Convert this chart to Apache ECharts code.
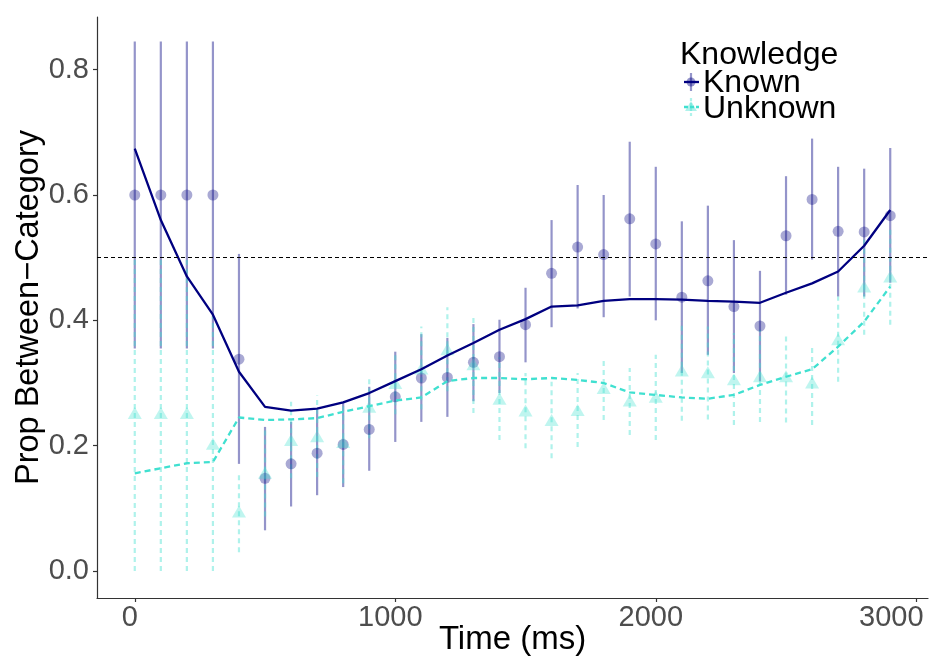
<!DOCTYPE html>
<html>
<head>
<meta charset="utf-8">
<script src="https://cdn.jsdelivr.net/npm/echarts@6/dist/echarts.min.js"></script>
<style>
html,body{margin:0;padding:0;background:#fff;}
#c{width:932px;height:662px;}
</style>
</head>
<body>
<div id="c"></div>
<script>
// ---- data ----
const timeMs = [0,100,200,300,400,500,600,700,800,900,1000,1100,1200,1300,1400,1500,1600,1700,1800,1900,2000,2100,2200,2300,2400,2500,2600,2700,2800,2900];

const knownMean = [0.600,0.600,0.600,0.600,0.338,0.148,0.171,0.188,0.202,0.226,0.278,0.308,0.309,0.333,0.342,0.393,0.475,0.517,0.505,0.562,0.522,0.437,0.463,0.422,0.391,0.535,0.593,0.542,0.541,0.567];
const knownLow  = [0.355,0.355,0.355,0.355,0.171,0.065,0.103,0.121,0.134,0.160,0.206,0.238,0.246,0.271,0.284,0.333,0.389,0.419,0.405,0.438,0.400,0.316,0.345,0.316,0.303,0.441,0.497,0.438,0.438,0.460];
const knownHigh = [0.845,0.845,0.845,0.845,0.506,0.230,0.238,0.257,0.268,0.294,0.350,0.378,0.372,0.394,0.401,0.452,0.560,0.616,0.600,0.685,0.645,0.558,0.583,0.528,0.479,0.630,0.690,0.645,0.642,0.675];
const knownFit  = [0.674,0.560,0.470,0.409,0.318,0.262,0.256,0.259,0.269,0.284,0.303,0.322,0.344,0.364,0.385,0.402,0.422,0.424,0.431,0.434,0.434,0.433,0.431,0.430,0.428,0.444,0.459,0.478,0.519,0.576];

const unknownMean = [0.252,0.252,0.252,0.203,0.095,0.157,0.209,0.215,0.206,0.262,0.300,0.323,0.354,0.330,0.275,0.256,0.241,0.257,0.292,0.272,0.278,0.320,0.317,0.306,0.311,0.311,0.301,0.370,0.454,0.470];
const unknownLow  = [0.000,0.000,0.000,0.000,0.030,0.087,0.148,0.150,0.140,0.212,0.250,0.258,0.287,0.252,0.209,0.196,0.180,0.198,0.241,0.217,0.209,0.240,0.242,0.233,0.238,0.237,0.233,0.302,0.377,0.393];
const unknownHigh = [0.500,0.500,0.500,0.406,0.155,0.227,0.270,0.280,0.270,0.310,0.350,0.390,0.421,0.408,0.341,0.316,0.302,0.316,0.338,0.324,0.345,0.398,0.390,0.380,0.385,0.380,0.359,0.438,0.531,0.547];
const unknownFit  = [0.156,0.164,0.172,0.174,0.245,0.241,0.242,0.244,0.254,0.263,0.272,0.277,0.303,0.308,0.308,0.306,0.308,0.305,0.300,0.285,0.281,0.277,0.275,0.281,0.297,0.310,0.322,0.358,0.398,0.454];

const xTicks = [0,1000,2000,3000];
const yTicks = [0,0.2,0.4,0.6,0.8];
const chanceLevel = 0.5;

// ---- styles ----
const FONT = 'Liberation Sans, Arial, sans-serif';
const KNOWN_LINE = '#000080';
const KNOWN_PT = 'rgba(0,0,128,0.42)';
const UNK_LINE = '#40E0D0';
const UNK_PT = 'rgba(64,224,208,0.42)';
const TICK_FS = 29;

function errBar(color, dash) {
  return function (params, api) {
    const x = api.value(0);
    const p1 = api.coord([x, api.value(1)]);
    const p2 = api.coord([x, api.value(2)]);
    return {
      type: 'line',
      shape: {x1: p1[0], y1: p1[1], x2: p2[0], y2: p2[1]},
      style: {stroke: color, lineWidth: 2.2, lineDash: dash}
    };
  };
}

const chart = echarts.init(document.getElementById('c'), null, {renderer: 'canvas'});
chart.setOption({
  animation: false,
  backgroundColor: '#fff',
  textStyle: {fontFamily: FONT},
  grid: {left: 97, right: 4, top: 17, bottom: 64, containLabel: false, outerBoundsMode: 'none'},
  xAxis: {
    type: 'value', min: -145, max: 3045,
    name: 'Time (ms)', nameLocation: 'middle', nameGap: 25, nameMoveOverlap: false,
    nameTextStyle: {fontSize: 33, color: '#000', fontFamily: FONT},
    splitLine: {show: false},
    axisLine: {show: true, onZero: false, lineStyle: {color: '#333', width: 1.2}},
    axisTick: {show: true, customValues: xTicks, length: 4, lineStyle: {color: '#333', width: 1.2}},
    axisLabel: {customValues: xTicks, color: '#4d4d4d', margin: 5, fontFamily: FONT,
      fontSize: TICK_FS,
      formatter: v => (v === 3000 ? '{e|' + v + '}' : '{n|' + v + '}'),
      rich: {
        n: {fontSize: TICK_FS, color: '#4d4d4d', fontFamily: FONT, padding: [0, 10, 0, 0]},
        e: {fontSize: TICK_FS, color: '#4d4d4d', fontFamily: FONT, padding: [0, 50, 0, 0]}
      }
    }
  },
  yAxis: {
    type: 'value', min: -0.043, max: 0.884,
    name: 'Prop Between\u2212Category', nameLocation: 'middle', nameGap: 51, nameRotate: 90,
    nameMoveOverlap: false,
    nameTextStyle: {fontSize: 32.5, color: '#000', fontFamily: FONT},
    splitLine: {show: false},
    axisLine: {show: true, onZero: false, lineStyle: {color: '#333', width: 1.2}},
    axisTick: {show: true, customValues: yTicks, length: 4, lineStyle: {color: '#333', width: 1.2}},
    axisLabel: {customValues: yTicks, fontSize: TICK_FS, color: '#4d4d4d', margin: 8, fontFamily: FONT,
      formatter: v => v.toFixed(1)}
  },
  series: [
    {
      type: 'custom', name: 'knownErr', renderItem: errBar(KNOWN_PT, null),
      encode: {x: 0, y: [1, 2]}, z: 2,
      data: timeMs.map((t, i) => [t, knownLow[i], knownHigh[i]])
    },
    {
      type: 'custom', name: 'unknownErr', renderItem: errBar(UNK_PT, [5, 4]),
      encode: {x: 0, y: [1, 2]}, z: 2,
      data: timeMs.map((t, i) => [t, unknownLow[i], unknownHigh[i]])
    },
    {
      type: 'scatter', name: 'Known', symbol: 'circle', symbolSize: 11, z: 3,
      itemStyle: {color: KNOWN_PT},
      data: timeMs.map((t, i) => [t, knownMean[i]])
    },
    {
      type: 'scatter', name: 'Unknown', symbol: 'triangle', symbolSize: [14, 12], z: 3,
      itemStyle: {color: UNK_PT},
      data: timeMs.map((t, i) => [t, unknownMean[i]])
    },
    {
      type: 'line', name: 'knownFit', showSymbol: false, z: 4,
      lineStyle: {color: KNOWN_LINE, width: 2.3},
      data: timeMs.map((t, i) => [t, knownFit[i]]),
      markLine: {
        silent: true, symbol: 'none', label: {show: false},
        lineStyle: {color: '#000', type: [4, 3], width: 1},
        data: [{yAxis: chanceLevel}]
      }
    },
    {
      type: 'line', name: 'unknownFit', showSymbol: false, z: 4,
      lineStyle: {color: UNK_LINE, width: 2.3, type: [6, 4]},
      data: timeMs.map((t, i) => [t, unknownFit[i]])
    }
  ],
  graphic: [
    {type: 'text', left: 680, top: 39, style: {text: 'Knowledge', fontSize: 32, fill: '#000', fontFamily: FONT}},
    // Known key
    {type: 'line', shape: {x1: 691, y1: 73, x2: 691, y2: 91}, style: {stroke: KNOWN_PT, lineWidth: 2.2}},
    {type: 'line', shape: {x1: 684, y1: 82, x2: 699, y2: 82}, style: {stroke: KNOWN_LINE, lineWidth: 2.3}},
    {type: 'circle', shape: {cx: 691, cy: 82, r: 4.5}, style: {fill: KNOWN_PT}},
    {type: 'text', left: 703, top: 67, style: {text: 'Known', fontSize: 32, fill: '#000', fontFamily: FONT}},
    // Unknown key
    {type: 'line', shape: {x1: 691, y1: 98, x2: 691, y2: 116}, style: {stroke: UNK_PT, lineWidth: 2.2, lineDash: [3, 2]}},
    {type: 'line', shape: {x1: 684, y1: 107, x2: 699, y2: 107}, style: {stroke: UNK_LINE, lineWidth: 2.3, lineDash: [4, 2]}},
    {type: 'polygon', shape: {points: [[691, 101], [697, 111], [685, 111]]}, style: {fill: UNK_PT}},
    {type: 'text', left: 703, top: 93, style: {text: 'Unknown', fontSize: 32, fill: '#000', fontFamily: FONT}}
  ]
});
</script>
</body>
</html>
